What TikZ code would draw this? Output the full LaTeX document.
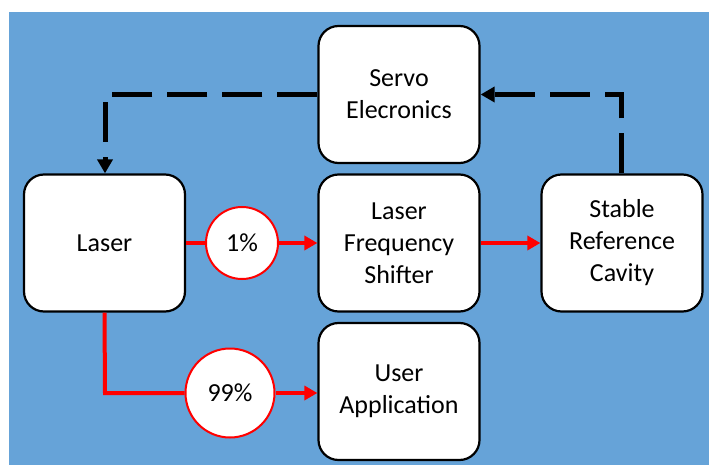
\documentclass[tikz,border=0pt]{standalone}
\usepackage{fontspec}
\setmainfont{Carlito}
\usetikzlibrary{arrows.meta}
\definecolor{bgblue}{RGB}{102,163,216}
\begin{document}
\begin{tikzpicture}[x=1pt,y=-1pt,
  blk/.style={draw=black,line width=2.2pt,fill=white,rounded corners=20pt,minimum width=161pt,minimum height=137pt,align=center,font=\fontsize{26}{32}\selectfont,inner sep=0pt},
  pct/.style={circle,draw=red,line width=2pt,fill=white,inner sep=0pt,font=\fontsize{26}{32}\selectfont},
  redarrow/.style={draw=red,line width=4pt,-{Triangle[length=13pt,width=14pt]}},
  redline/.style={draw=red,line width=4pt},
  fb/.style={draw=black,line width=5pt,dash pattern=on 40pt off 15pt},
  fbarrow/.style={fb,-{Triangle[length=14pt,width=15pt]}}]
\useasboundingbox (0,0) rectangle (709,465);
\fill[white] (0,0) rectangle (709,465);
\fill[bgblue] (9,12) rectangle (709,465);
\node[blk] (servo) at (399,94.5) {Servo\\Elecronics};
\node[blk] (laser) at (104.5,243) {Laser};
\node[blk] (lfs) at (399,243) {Laser\\Frequency\\Shifter};
\node[blk] (cav) at (622,243) {Stable\\Reference\\Cavity};
\node[blk] (user) at (399,391.5) {User\\Application};
\node[pct,minimum size=72pt] (p1) at (242,243) {1\%};
\node[pct,minimum size=89pt] (p99) at (230,393) {99\%};
\coordinate (c1) at (105,393);
\coordinate (c2) at (621,94.5);
\coordinate (c3) at (105,94.5);
\draw[redline] (laser.east) -- (p1.west);
\draw[redarrow] (p1.east) -- (lfs.west);
\draw[redarrow] (lfs.east) -- (cav.west);
\draw[redline] (laser.south) -- (c1) -- (p99.west);
\draw[redarrow] (p99.east) -- (user.west |- p99);
\draw[fbarrow] (cav.north -| c2) -- (c2) -- (servo.east);
\draw[fbarrow] (servo.west) -- (c3) -- (laser.north -| c3);
\end{tikzpicture}
\end{document}
